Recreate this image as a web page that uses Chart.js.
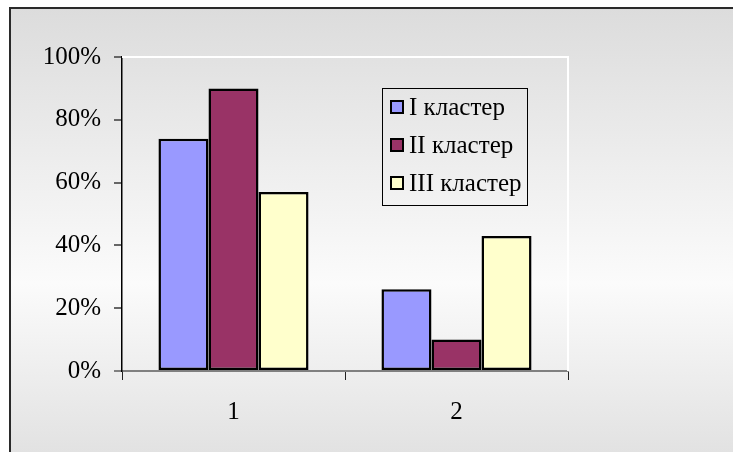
<!DOCTYPE html>
<html>
<head>
<meta charset="utf-8">
<script src="https://cdn.jsdelivr.net/npm/chart.js@4"></script>
<style>
  html, body { margin: 0; padding: 0; background: #fff; }
  #wrap { width: 733px; height: 452px; }
</style>
</head>
<body>
<div id="wrap"><canvas id="chart" width="733" height="452"></canvas></div>
<script>
// категории и значения кластеров, %
const categories = ['1', '2'];
const seriesNames = ['I кластер', 'II кластер', 'III кластер'];
const cluster1 = [74, 26];
const cluster2 = [90, 10];
const cluster3 = [57, 43];
const yTicks = [0, 20, 40, 60, 80, 100];

const seriesColors = ['#9999ff', '#993366', '#ffffcc'];
const FONT = '"Liberation Serif", "Times New Roman", serif';
const FONT_SIZE = 25;

// фон с градиентом и рамкой
const backdrop = {
  id: 'backdrop',
  beforeDraw(chart) {
    const { ctx, width, height } = chart;
    ctx.save();
    ctx.fillStyle = '#ffffff';
    ctx.fillRect(0, 0, width, height);
    const g = ctx.createLinearGradient(0, 8, 0, height);
    g.addColorStop(0, '#dcdcdc');
    g.addColorStop(0.62, '#fbfbfb');
    g.addColorStop(1, '#e2e2e2');
    ctx.fillStyle = g;
    ctx.fillRect(10, 8, width - 10, height - 8);
    ctx.strokeStyle = '#2a2a2a';
    ctx.lineWidth = 2;
    ctx.beginPath();
    ctx.moveTo(10, height);
    ctx.lineTo(10, 8);
    ctx.lineTo(width, 8);
    ctx.stroke();
    ctx.restore();
  },
  beforeDatasetsDraw(chart) {
    const { ctx, chartArea: a } = chart;
    ctx.save();
    ctx.strokeStyle = '#ffffff';
    ctx.lineWidth = 2;
    ctx.beginPath();
    ctx.moveTo(a.left, a.top);
    ctx.lineTo(a.right, a.top);
    ctx.lineTo(a.right, a.bottom);
    ctx.stroke();
    ctx.restore();
  }
};

// легенда в рамке внутри области построения
const boxLegend = {
  id: 'boxLegend',
  afterDraw(chart) {
    const { ctx } = chart;
    const x0 = 382, y0 = 88, w = 145, h = 117;
    ctx.save();
    ctx.strokeStyle = '#000';
    ctx.lineWidth = 1;
    ctx.strokeRect(x0 + 0.5, y0 + 0.5, w, h);
    ctx.font = FONT_SIZE + 'px ' + FONT;
    ctx.textBaseline = 'middle';
    chart.data.datasets.forEach((ds, i) => {
      const cy = 107 + i * 38;
      ctx.fillStyle = ds.backgroundColor;
      ctx.fillRect(391, cy - 6, 12, 12);
      ctx.lineWidth = 2;
      ctx.strokeStyle = '#000';
      ctx.strokeRect(391, cy - 6, 12, 12);
      ctx.fillStyle = '#000';
      ctx.fillText(ds.label, 409, cy + 1);
    });
    ctx.restore();
  }
};

const values = [cluster1, cluster2, cluster3];

new Chart(document.getElementById('chart'), {
  type: 'bar',
  data: {
    labels: categories,
    datasets: seriesNames.map((name, i) => ({
      label: name,
      data: values[i],
      backgroundColor: seriesColors[i],
      borderColor: '#000',
      borderWidth: 2.5,
      borderSkipped: false,
      barPercentage: 1,
      categoryPercentage: 0.673
    }))
  },
  options: {
    responsive: false,
    animation: false,
    devicePixelRatio: 1,
    layout: { padding: { top: 57, right: 165, left: 0, bottom: 0 } },
    plugins: {
      legend: { display: false },
      tooltip: { enabled: false }
    },
    scales: {
      x: {
        afterFit(s) { s.height = 81; },
        grid: {
          offset: true,
          drawOnChartArea: false,
          tickLength: 9,
          color: '#222',
          lineWidth: 1
        },
        border: { color: '#808080', width: 2 },
        ticks: {
          color: '#000',
          padding: 17,
          font: { family: FONT, size: FONT_SIZE }
        }
      },
      y: {
        min: 0,
        max: 100,
        afterFit(s) { s.width = 122; },
        afterBuildTicks(s) { s.ticks = yTicks.map(v => ({ value: v })); },
        grid: {
          drawOnChartArea: false,
          tickLength: 8,
          color: ctx => ctx.tick && ctx.tick.value === 0 ? '#808080' : '#666',
          lineWidth: 2
        },
        border: { color: '#000', width: 1.5 },
        ticks: {
          color: '#000',
          padding: 13,
          font: { family: FONT, size: FONT_SIZE },
          callback: v => v + '%'
        }
      }
    }
  },
  plugins: [backdrop, boxLegend]
});
</script>
</body>
</html>
